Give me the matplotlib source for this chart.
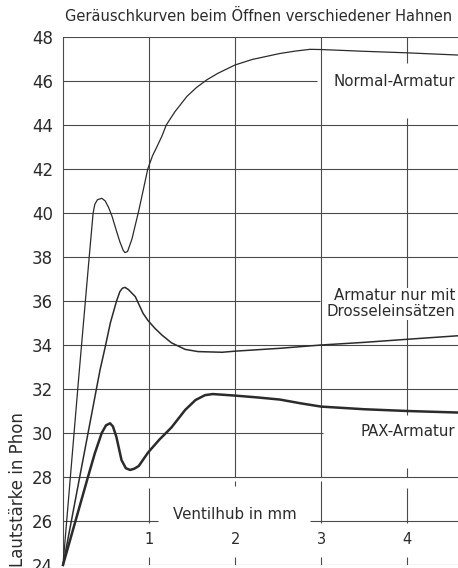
#!/usr/bin/env python3
"""
Geraeuschkurven beim Oeffnen verschiedener Hahnen
Lautstaerke (Phon) ueber Ventilhub (mm) fuer drei Armaturen
"""

import matplotlib
matplotlib.use('Agg')
import matplotlib.pyplot as plt

# ---- data ----
normal_x = [0, 0.18, 0.30, 0.35, 0.37, 0.40, 0.45, 0.49, 0.53, 0.57, 0.62, 0.66,
            0.70, 0.72, 0.75, 0.80, 0.84, 0.88, 0.93, 0.985, 1.04, 1.09, 1.15,
            1.2, 1.3, 1.44, 1.55, 1.67, 1.8, 2.0, 2.2, 2.52, 2.7, 2.87, 3.0,
            3.5, 4.0, 4.59]
normal_y = [24, 32.4, 37.8, 40.0, 40.4, 40.6, 40.67, 40.55, 40.25, 39.85, 39.2,
            38.7, 38.3, 38.2, 38.25, 38.8, 39.45, 40.1, 41.0, 42.0, 42.6, 43.0,
            43.5, 44.0, 44.6, 45.3, 45.7, 46.05, 46.35, 46.73, 46.98, 47.25,
            47.36, 47.44, 47.43, 47.35, 47.28, 47.18]

drossel_x = [0, 0.43, 0.49, 0.55, 0.62, 0.66, 0.69, 0.72, 0.76, 0.84, 0.93, 0.99,
             1.07, 1.15, 1.26, 1.42, 1.57, 1.85, 2.0, 2.52, 3.0, 3.5, 4.0, 4.59]
drossel_y = [24, 32.86, 33.9, 35.0, 35.97, 36.42, 36.58, 36.62, 36.52, 36.2,
             35.44, 35.1, 34.75, 34.45, 34.1, 33.8, 33.7, 33.67, 33.72, 33.85,
             34.0, 34.12, 34.26, 34.42]

pax_x = [0, 0.29, 0.37, 0.45, 0.50, 0.547, 0.58, 0.62, 0.68, 0.73, 0.78, 0.83,
         0.88, 0.99, 1.12, 1.26, 1.42, 1.54, 1.65, 1.74, 2.0, 2.25, 2.52, 2.76,
         3.0, 3.5, 4.0, 4.59]
pax_y = [24, 28.0, 29.08, 30.0, 30.35, 30.44, 30.3, 29.83, 28.77, 28.4, 28.32,
         28.38, 28.5, 29.12, 29.7, 30.25, 31.05, 31.5, 31.72, 31.77, 31.7, 31.62,
         31.52, 31.35, 31.2, 31.08, 31.0, 30.93]

series_labels = ['Normal-Armatur', 'Armatur nur mit\nDrosseleinsätzen', 'PAX-Armatur']
label_y = [46.0, 35.87, 30.05]

x_ticks = [1, 2, 3, 4]
y_ticks = list(range(24, 49, 2))

title = 'Geräuschkurven beim Öffnen verschiedener Hahnen'
x_title = 'Ventilhub in mm'
y_title = 'Lautstärke in Phon'

# ---- style ----
INK = '#2b2b2b'
GRID = '#4a4a4a'
FONT = 'DejaVu Sans'

X_MAX = 4.59
# broken gridline pieces (gaps where text sits), as (from, to)
H_SEGMENTS = {46: [(0, 2.95)], 36: [(0, 2.99)], 30: [(0, 3.02)],
              26: [(0, 1.1), (2.87, X_MAX)]}
V_SEGMENTS = {1: [(28, 48), (25.9, 27.5), (24, 24.35)],
              2: [(28, 48), (27.6, 27.8), (24, 24.35)],
              3: [(28, 48), (25.9, 27.8), (24, 24.35)],
              4: [(46.8, 48), (30.8, 44.3), (28.0, 28.4), (25.9, 27.5), (24, 24.35)]}

plt.rcParams['font.family'] = [FONT]

fig = plt.figure(figsize=(4.58, 5.68), dpi=100)
# plot area: 63..458 px wide, 37..565 px tall (from top)
ax = fig.add_axes([63 / 458, 3 / 568, (458 - 63) / 458, (565 - 37) / 568])
ax.set_xlim(0, X_MAX)
ax.set_ylim(24, 48)

for s in ['top', 'right', 'bottom']:
    ax.spines[s].set_visible(False)
ax.spines['left'].set_color(GRID)
ax.spines['left'].set_linewidth(0.8)

# grid lines
for yv in y_ticks:
    for a, b in H_SEGMENTS.get(yv, [(0, X_MAX)]):
        ax.hlines(yv, a, b, color=GRID, lw=0.8, zorder=1)
for xv in x_ticks:
    for a, b in V_SEGMENTS[xv]:
        ax.vlines(xv, a, b, color=GRID, lw=0.8, zorder=1)

# curves
ax.plot(normal_x, normal_y, color=INK, lw=0.9, zorder=3, clip_on=False)
ax.plot(drossel_x, drossel_y, color=INK, lw=1.1, zorder=3, clip_on=False)
ax.plot(pax_x, pax_y, color=INK, lw=1.8, zorder=3, clip_on=False)

# curve labels on the right
for txt, yy in zip(series_labels, label_y):
    ax.text(4.56, yy, txt, ha='right', va='center', multialignment='right',
            fontsize=10.8, color=INK, linespacing=1.1,
            bbox=dict(facecolor='white', edgecolor='none', pad=0.5))

# y ticks
ax.set_yticks(y_ticks)
ax.set_yticklabels([str(v) for v in y_ticks], fontsize=12, color=INK)
ax.tick_params(axis='y', length=0, pad=7)
ax.set_xticks([])

# x tick labels sit inside the plot
for xv in x_ticks:
    ax.text(xv, 25.14, str(xv), ha='center', va='center', fontsize=10.5, color=INK)

ax.text(2.0, 26.3, x_title, ha='center', va='center', fontsize=10.8, color=INK)

fig.text(259 / 458, 1 - 16 / 568, title, ha='center', va='center',
         fontsize=10.5, color=INK)
fig.text(18 / 458, 1 - 412 / 568, y_title, rotation=90, ha='center', va='top',
         fontsize=12, color=INK)

fig.savefig('out.png', dpi=100, facecolor='white')
